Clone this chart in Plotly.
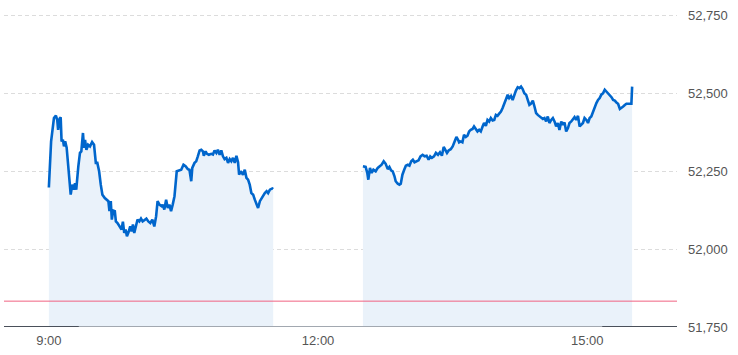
import plotly.graph_objects as go

# minutes after 9:00
am_min = [0, 1.5, 3.4, 4.7, 5.6, 6.2, 7.2, 7.9, 8.5, 9.4, 10.1, 10.9, 11.9, 12.8, 13.6, 14.6,
          15.6, 16.8, 17.5, 18.3, 19.7, 20.8, 21.7, 22.8, 23.5, 24.2, 25.1, 26.2, 27.5, 28.9,
          30.2, 31.4, 32.4, 33.6, 34.7, 35.8, 37.4, 38.5, 39.8, 40.5, 41.4, 42.1, 43.0, 44.1,
          44.8, 45.9, 47.2, 48.6, 49.5, 50.4, 51.3, 52.2, 53.3, 54.4, 55.3, 56.2, 57.1, 58.4,
          59.3, 60.5, 61.6, 62.7, 63.8, 65.2, 66.5, 67.8, 69.2, 70.5, 71.7, 72.7, 73.9, 75.4,
          76.1, 77.2, 78.4, 79.5, 80.6, 81.7, 82.8, 84.0, 85.5, 86.9, 88.5, 90.0, 91.4, 92.9,
          94.0, 95.2, 95.9, 97.4, 98.5, 99.6, 100.8, 101.9, 103.0, 103.6, 104.8, 105.7, 107.0,
          108.6, 109.7, 110.8, 112.0, 113.0, 114.2, 115.3, 116.4, 117.5, 118.7, 119.8, 120.9,
          122.0, 123.1, 124.3, 125.4, 126.5, 127.2, 128.3, 129.8, 131.0, 132.1, 133.2, 134.3,
          135.4, 136.6, 137.7, 138.8, 139.9, 141.1, 142.2, 143.3, 144.4, 145.6, 146.6, 147.8,
          149.4, 150]
am_val = [52198, 52346, 52421, 52429, 52415, 52383, 52419, 52423, 52346, 52351, 52330, 52346,
          52326, 52278, 52234, 52175, 52207, 52191, 52212, 52191, 52266, 52309, 52314, 52373,
          52325, 52351, 52319, 52335, 52330, 52344, 52335, 52277, 52277, 52250, 52207, 52175,
          52164, 52159, 52154, 52122, 52154, 52095, 52124, 52122, 52089, 52084, 52073, 52063,
          52088, 52052, 52063, 52041, 52055, 52073, 52057, 52079, 52052, 52084, 52095, 52089,
          52098, 52089, 52092, 52098, 52089, 52084, 52095, 52073, 52105, 52154, 52143, 52138,
          52143, 52127, 52159, 52132, 52143, 52122, 52143, 52170, 52250, 52253, 52255, 52271,
          52266, 52257, 52255, 52218, 52261, 52277, 52282, 52298, 52317, 52319, 52314, 52300,
          52314, 52306, 52303, 52306, 52304, 52317, 52309, 52319, 52303, 52317, 52298, 52289,
          52293, 52277, 52289, 52282, 52293, 52277, 52300, 52279, 52239, 52250, 52239, 52255,
          52229, 52223, 52207, 52180, 52175, 52159, 52143, 52132, 52154, 52164, 52175, 52180,
          52186, 52180, 52191, 52195, 52193]

pm_min = [210, 211.8, 212.9, 213.6, 214.7, 215.8, 217.0, 218.5, 219.9, 221.2, 222.5, 223.9,
          225.2, 226.6, 227.7, 228.8, 229.9, 231.1, 231.9, 233.3, 234.4, 235.3, 236.4, 237.6,
          238.7, 240.0, 241.1, 242.3, 243.4, 244.5, 246.0, 247.2, 248.5, 249.9, 251.2, 252.6,
          253.9, 255.0, 256.1, 257.5, 258.8, 260.2, 261.5, 262.8, 264.0, 265.1, 266.2, 267.3,
          268.7, 270.0, 271.4, 272.5, 273.6, 274.3, 275.4, 276.5, 277.6, 278.8, 279.9, 281.0,
          282.1, 283.3, 284.3, 285.5, 286.6, 287.7, 288.8, 290.0, 291.0, 292.2, 293.3, 294.4,
          295.5, 296.7, 297.8, 298.9, 300.0, 301.1, 302.3, 303.4, 304.5, 305.6, 306.8, 307.8,
          309.0, 310.1, 311.2, 312.3, 313.5, 314.6, 315.7, 316.8, 317.9, 319.1, 320.2, 321.3,
          322.4, 323.6, 324.7, 325.8, 326.9, 328.0, 329.1, 330.3, 331.4, 332.5, 333.6, 334.7,
          335.9, 337.0, 338.1, 339.2, 340.3, 341.4, 342.6, 343.7, 344.8, 345.9, 347.1, 348.1,
          349.3, 350.4, 351.5, 352.6, 353.8, 354.9, 356.0, 357.1, 358.2, 359.4, 360.5, 361.6,
          362.7, 363.8, 365.0, 366.1, 367.2, 368.3, 369.4, 370.6, 371.7, 372.8, 373.9, 375.0,
          376.2, 377.3, 378.4, 379.5, 380.6, 381.8, 382.9, 384.0, 385.1, 386.2, 389.5, 390]
pm_val = [52266, 52264, 52245, 52223, 52261, 52245, 52255, 52250, 52261, 52266, 52271, 52282,
          52274, 52257, 52264, 52253, 52250, 52234, 52218, 52210, 52207, 52210, 52239, 52255,
          52268, 52271, 52268, 52282, 52287, 52279, 52282, 52285, 52298, 52303, 52298, 52300,
          52287, 52298, 52293, 52298, 52309, 52303, 52311, 52300, 52328, 52319, 52309, 52317,
          52321, 52330, 52346, 52360, 52351, 52343, 52346, 52343, 52367, 52360, 52364, 52378,
          52383, 52386, 52394, 52383, 52378, 52383, 52378, 52394, 52405, 52396, 52415, 52410,
          52421, 52413, 52415, 52431, 52428, 52435, 52442, 52453, 52469, 52479, 52496, 52485,
          52492, 52479, 52496, 52509, 52520, 52517, 52522, 52514, 52501, 52496, 52479, 52463,
          52467, 52477, 52458, 52437, 52431, 52426, 52421, 52418, 52421, 52410, 52426, 52405,
          52415, 52421, 52410, 52394, 52405, 52383, 52410, 52399, 52407, 52378, 52389, 52405,
          52410, 52418, 52424, 52415, 52428, 52394, 52399, 52405, 52421, 52415, 52405, 52421,
          52426, 52442, 52458, 52469, 52479, 52485, 52496, 52501, 52512, 52506, 52499, 52496,
          52488, 52479, 52477, 52471, 52467, 52450, 52453, 52458, 52463, 52467, 52467, 52522]

prev_close = 51833
x_ticks = [0, 180, 360]
x_labels = ["9:00", "12:00", "15:00"]
y_ticks = [51750, 52000, 52250, 52500, 52750]
y_labels = ["51,750", "52,000", "52,250", "52,500", "52,750"]

LINE = "#0066cc"
FILL = "#eaf2fa"

fig = go.Figure()
for xs, ys in ((am_min, am_val), (pm_min, pm_val)):
    fig.add_trace(go.Scatter(x=xs, y=ys, mode="lines", fill="tozeroy", fillcolor=FILL,
                             line=dict(color=LINE, width=2.6), hoverinfo="skip",
                             showlegend=False))

# previous close line
fig.add_shape(type="line", xref="x", yref="y", x0=-30, x1=420, y0=prev_close, y1=prev_close,
              line=dict(color="#f06282", width=1))
# bottom axis line
fig.add_shape(type="line", xref="x", yref="y", x0=-30, x1=420, y0=51750, y1=51750,
              line=dict(color="#a2a8b0", width=2))
fig.add_shape(type="line", xref="x", yref="y", x0=-30, x1=20, y0=51750, y1=51750,
              line=dict(color="#4a505a", width=2))
fig.add_shape(type="line", xref="x", yref="y", x0=370, x1=420, y0=51750, y1=51750,
              line=dict(color="#4a505a", width=2))

font = dict(family="Liberation Sans, Arial, sans-serif", size=13, color="#555555")
fig.update_layout(
    width=738, height=355,
    margin=dict(l=4, r=61, t=0, b=28),
    paper_bgcolor="white", plot_bgcolor="white",
    font=font,
    xaxis=dict(range=[-30, 420], tickvals=x_ticks, ticktext=x_labels, showgrid=False,
               zeroline=False, showline=False, ticks="", tickfont=font, fixedrange=True,
               ticklabelstandoff=4),
    yaxis=dict(range=[51750, 52800], side="right", tickvals=y_ticks, ticktext=y_labels,
               showgrid=True, gridcolor="#dcdcdc", griddash="4px,3px", gridwidth=1,
               zeroline=False, showline=False, ticks="", tickfont=font,
               ticklabelstandoff=10, fixedrange=True),
)
fig.write_html("out.html")
